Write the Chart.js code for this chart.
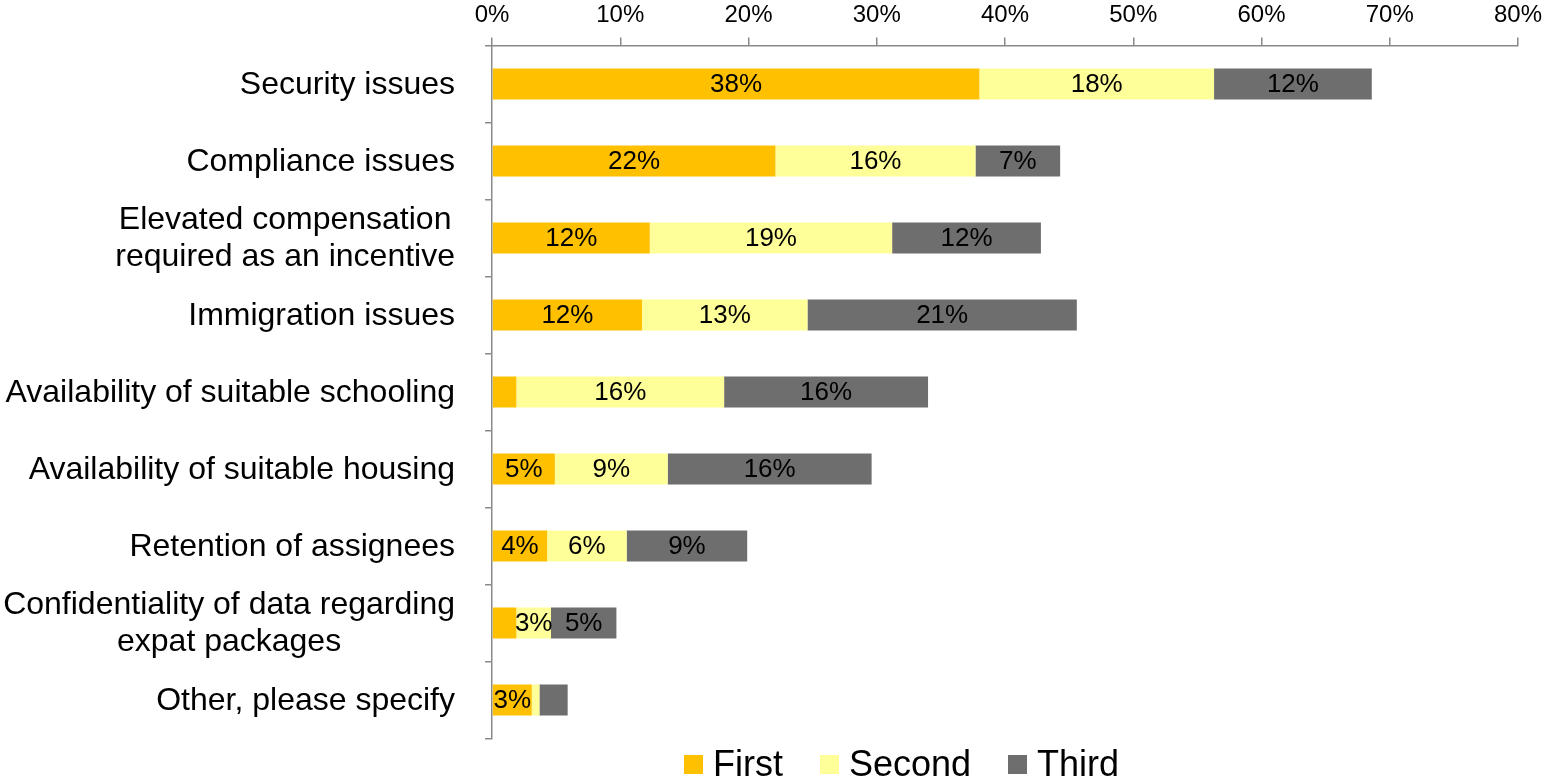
<!DOCTYPE html>
<html>
<head>
<meta charset="utf-8">
<script src="https://cdn.jsdelivr.net/npm/chart.js@4"></script>
<style>
  html, body { margin: 0; padding: 0; background: #fff; overflow: hidden; }
  #wrap { position: relative; width: 1546px; height: 781px; }
  #legend {
    position: absolute; left: 684px; top: 746px;
    display: flex; align-items: center;
    font-family: "Liberation Sans", Arial, sans-serif;
    font-size: 36px; line-height: 36px; color: #000; white-space: nowrap;
  }
  #legend .item { display: flex; align-items: center; margin-right: 37px; }
  #legend .box { width: 19px; height: 19px; margin-right: 10px; }
</style>
</head>
<body>
<div id="wrap">
  <canvas id="c"></canvas>
  <div id="legend"></div>
</div>
<script>
// Challenges ranked first, second and third (share of respondents, %)
const categories = [
  'Security issues',
  'Compliance issues',
  ['Elevated compensation', 'required as an incentive'],
  'Immigration issues',
  'Availability of suitable schooling',
  'Availability of suitable housing',
  'Retention of assignees',
  ['Confidentiality of data regarding', 'expat packages'],
  'Other, please specify'
];
const seriesNames = ['First', 'Second', 'Third'];
const firstValues  = [38.0, 22.1, 12.3, 11.7, 1.9, 4.9, 4.3, 1.9, 3.1];
const secondValues = [18.3, 15.6, 18.9, 12.9, 16.2, 8.8, 6.2, 2.7, 0.6];
const thirdValues  = [12.3,  6.6, 11.6, 21.0, 15.9, 15.9, 9.4, 5.1, 2.2];
const xTickValues = [0, 10, 20, 30, 40, 50, 60, 70, 80];

const FONT = '"Liberation Sans", Arial, sans-serif';
const colors = ['#FFC000', '#FFFF99', '#6E6E6E'];
const labelMin = 2.5; // segments narrower than this carry no value label

Chart.defaults.font.family = FONT;

// Value labels centred inside each bar segment
const segmentLabels = {
  id: 'segmentLabels',
  afterDatasetsDraw(chart) {
    const ctx = chart.ctx;
    ctx.save();
    ctx.font = '26px ' + FONT;
    ctx.fillStyle = '#000';
    ctx.textAlign = 'center';
    ctx.textBaseline = 'middle';
    chart.data.datasets.forEach((ds, di) => {
      chart.getDatasetMeta(di).data.forEach((bar, i) => {
        const v = ds.data[i];
        if (v < labelMin) return;
        const p = bar.getCenterPoint();
        ctx.fillText(Math.round(v) + '%', p.x, p.y + 1);
      });
    });
    ctx.restore();
  }
};

// Category names: block right-aligned to the axis, lines centred within the block
const categoryLabels = {
  id: 'categoryLabels',
  afterDraw(chart) {
    const ctx = chart.ctx;
    const y = chart.scales.y;
    const right = y.right - 7 - 30;
    const lineH = 37;
    ctx.save();
    ctx.font = '32px ' + FONT;
    ctx.fillStyle = '#000';
    ctx.textAlign = 'center';
    ctx.textBaseline = 'middle';
    chart.data.labels.forEach((lab, i) => {
      const lines = Array.isArray(lab) ? lab : [lab];
      const w = Math.max(...lines.map(l => ctx.measureText(l).width));
      const cx = right - w / 2;
      const cy = y.getPixelForValue(i);
      lines.forEach((l, k) => {
        ctx.fillText(l, cx, cy + (k - (lines.length - 1) / 2) * lineH + 1);
      });
    });
    ctx.restore();
  }
};

const chart = new Chart(document.getElementById('c'), {
  type: 'bar',
  data: {
    labels: categories,
    datasets: [firstValues, secondValues, thirdValues].map((vals, i) => ({
      label: seriesNames[i],
      data: vals,
      backgroundColor: colors[i],
      borderWidth: 0,
      categoryPercentage: 1,
      barPercentage: 0.4
    }))
  },
  options: {
    indexAxis: 'y',
    responsive: true,
    maintainAspectRatio: false,
    animation: false,
    layout: { padding: { top: 0, right: 28, bottom: 42.5, left: 0 } },
    plugins: {
      legend: { display: false },
      tooltip: { enabled: false }
    },
    scales: {
      x: {
        type: 'linear',
        position: 'top',
        stacked: true,
        min: 0,
        max: 80,
        afterBuildTicks(s) { s.ticks = xTickValues.map(v => ({ value: v })); },
        ticks: {
          callback: v => v + '%',
          color: '#000',
          font: { size: 24 },
          padding: 8,
          maxRotation: 0
        },
        grid: { drawOnChartArea: false, drawTicks: true, tickLength: 8, color: '#8A8A8A', lineWidth: 1.5 },
        border: { color: '#8A8A8A', width: 1.5 },
        afterFit(s) { s.height = 45.5; s.paddingLeft = 0; s.paddingRight = 0; }
      },
      y: {
        type: 'category',
        stacked: true,
        ticks: { display: false },
        grid: { offset: true, drawOnChartArea: false, drawTicks: true, tickLength: 7, color: '#8A8A8A', lineWidth: 1.5 },
        border: { color: '#8A8A8A', width: 1.5 },
        afterFit(s) { s.width = 492; }
      }
    }
  },
  plugins: [segmentLabels, categoryLabels]
});

// Legend built from the chart's own legend items
const legendEl = document.getElementById('legend');
chart.options.plugins.legend.labels.generateLabels(chart).forEach(item => {
  const el = document.createElement('div');
  el.className = 'item';
  const box = document.createElement('span');
  box.className = 'box';
  box.style.background = item.fillStyle;
  const txt = document.createElement('span');
  txt.textContent = item.text;
  el.appendChild(box);
  el.appendChild(txt);
  legendEl.appendChild(el);
});
</script>
</body>
</html>
